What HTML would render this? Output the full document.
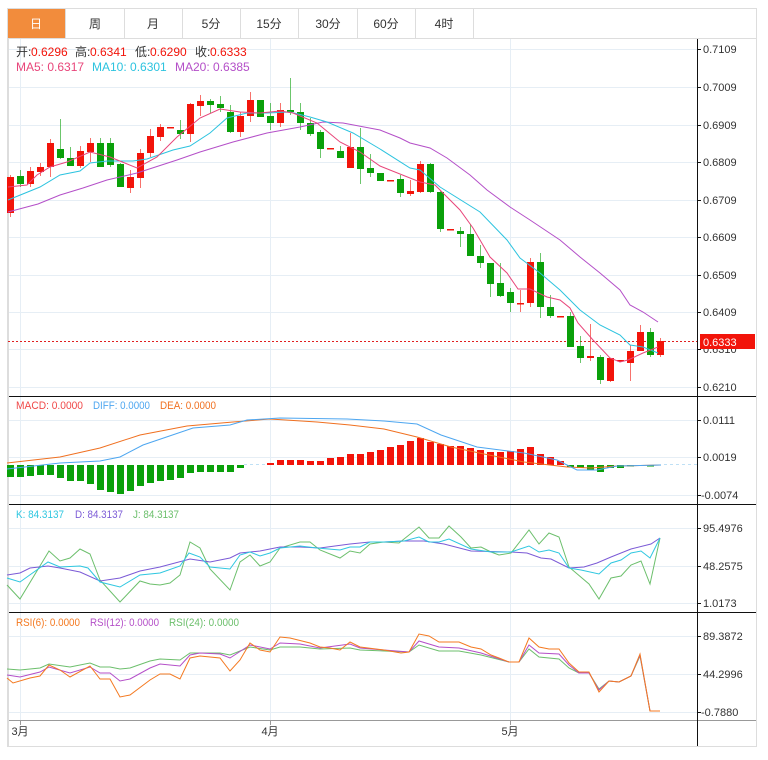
<!DOCTYPE html>
<html><head><meta charset="utf-8"><style>
html,body{margin:0;padding:0;background:#fff;width:768px;height:760px;overflow:hidden}
svg{position:absolute;left:0;top:0}
text{font-family:"Liberation Sans","Noto Sans CJK SC",sans-serif;font-size:11px}
.r{fill:#f2140a}.g{fill:#0aa00a}
.wr{stroke:#f2140a;stroke-opacity:.6}.wg{stroke:#0aa00a;stroke-opacity:.6}
</style></head><body>
<svg width="768" height="760" viewBox="0 0 768 760">
<rect x="7.5" y="8.5" width="749" height="738" fill="#fff" stroke="#ddd"/>
<line x1="8" y1="38.5" x2="756" y2="38.5" stroke="#ddd"/>
<rect x="8" y="9" width="57" height="29" fill="#f28c3c"/>
<g stroke="#ddd"><line x1="65.5" y1="9" x2="65.5" y2="38"/><line x1="124.5" y1="9" x2="124.5" y2="38"/><line x1="182.5" y1="9" x2="182.5" y2="38"/><line x1="240.5" y1="9" x2="240.5" y2="38"/><line x1="298.5" y1="9" x2="298.5" y2="38"/><line x1="357.5" y1="9" x2="357.5" y2="38"/><line x1="415.5" y1="9" x2="415.5" y2="38"/><line x1="473.5" y1="9" x2="473.5" y2="38"/></g>
<g text-anchor="middle" fill="#333">
<text x="36" y="28" fill="#fff" style="font-size:12px">日</text>
<text x="95" y="28" style="font-size:12px">周</text>
<text x="153" y="28" style="font-size:12px">月</text>
<text x="211" y="28" style="font-size:12px">5分</text>
<text x="269" y="28" style="font-size:12px">15分</text>
<text x="328" y="28" style="font-size:12px">30分</text>
<text x="386" y="28" style="font-size:12px">60分</text>
<text x="444" y="28" style="font-size:12px">4时</text>
</g>
<g stroke="#e6eef5" stroke-width="1">
<line x1="8" y1="49.5" x2="697" y2="49.5"/><line x1="8" y1="87.5" x2="697" y2="87.5"/><line x1="8" y1="125.5" x2="697" y2="125.5"/><line x1="8" y1="162.5" x2="697" y2="162.5"/><line x1="8" y1="200.5" x2="697" y2="200.5"/><line x1="8" y1="237.5" x2="697" y2="237.5"/><line x1="8" y1="275.5" x2="697" y2="275.5"/><line x1="8" y1="312.5" x2="697" y2="312.5"/><line x1="8" y1="349.5" x2="697" y2="349.5"/><line x1="8" y1="387.5" x2="697" y2="387.5"/>
<line x1="8" y1="420.5" x2="697" y2="420.5"/><line x1="8" y1="457.5" x2="697" y2="457.5"/><line x1="8" y1="495.5" x2="697" y2="495.5"/>
<line x1="8" y1="528.5" x2="697" y2="528.5"/><line x1="8" y1="566.5" x2="697" y2="566.5"/><line x1="8" y1="603.5" x2="697" y2="603.5"/>
<line x1="8" y1="636.5" x2="697" y2="636.5"/><line x1="8" y1="674.5" x2="697" y2="674.5"/><line x1="8" y1="712.5" x2="697" y2="712.5"/>
<line x1="20.5" y1="39" x2="20.5" y2="721"/><line x1="270.5" y1="39" x2="270.5" y2="721"/><line x1="510.5" y1="39" x2="510.5" y2="721"/>
</g>
<line x1="8" y1="396.5" x2="698" y2="396.5" stroke="#111"/>
<line x1="8" y1="504.5" x2="698" y2="504.5" stroke="#111"/>
<line x1="8" y1="612.5" x2="698" y2="612.5" stroke="#111"/>
<line x1="8" y1="720.5" x2="756" y2="720.5" stroke="#999"/>
<line x1="8.5" y1="39" x2="8.5" y2="746" stroke="#ddd"/>
<line x1="697.5" y1="39" x2="697.5" y2="746" stroke="#111"/>
<line x1="697" y1="396.5" x2="756" y2="396.5" stroke="#111"/>
<line x1="697" y1="504.5" x2="756" y2="504.5" stroke="#111"/>
<line x1="697" y1="612.5" x2="756" y2="612.5" stroke="#111"/>
<g fill="#333">
<g stroke="#111"><line x1="697" y1="49.5" x2="701" y2="49.5"/><line x1="697" y1="87.5" x2="701" y2="87.5"/><line x1="697" y1="125.5" x2="701" y2="125.5"/><line x1="697" y1="162.5" x2="701" y2="162.5"/><line x1="697" y1="200.5" x2="701" y2="200.5"/><line x1="697" y1="237.5" x2="701" y2="237.5"/><line x1="697" y1="275.5" x2="701" y2="275.5"/><line x1="697" y1="312.5" x2="701" y2="312.5"/><line x1="697" y1="349.5" x2="701" y2="349.5"/><line x1="697" y1="387.5" x2="701" y2="387.5"/><line x1="697" y1="420.5" x2="701" y2="420.5"/><line x1="697" y1="457.5" x2="701" y2="457.5"/><line x1="697" y1="495.5" x2="701" y2="495.5"/><line x1="697" y1="528.5" x2="701" y2="528.5"/><line x1="697" y1="566.5" x2="701" y2="566.5"/><line x1="697" y1="603.5" x2="701" y2="603.5"/><line x1="697" y1="636.5" x2="701" y2="636.5"/><line x1="697" y1="674.5" x2="701" y2="674.5"/><line x1="697" y1="712.5" x2="701" y2="712.5"/></g>
<text x="703" y="53">0.7109</text><text x="703" y="91">0.7009</text><text x="703" y="129">0.6909</text><text x="703" y="166">0.6809</text><text x="703" y="204">0.6709</text><text x="703" y="241">0.6609</text><text x="703" y="279">0.6509</text><text x="703" y="316">0.6409</text><text x="703" y="353">0.6310</text><text x="703" y="391">0.6210</text>
<text x="703" y="424">0.0111</text><text x="703" y="461">0.0019</text><text x="701" y="499">-0.0074</text>
<text x="703" y="532">95.4976</text><text x="703" y="570">48.2575</text><text x="703" y="607">1.0173</text>
<text x="703" y="640">89.3872</text><text x="703" y="678">44.2996</text><text x="701" y="716">-0.7880</text>
</g>
<g stroke="#999"><line x1="20.5" y1="721" x2="20.5" y2="725"/><line x1="270.5" y1="721" x2="270.5" y2="725"/><line x1="510.5" y1="721" x2="510.5" y2="725"/></g>
<g fill="#333" text-anchor="middle"><text x="20" y="735">3月</text><text x="270" y="735">4月</text><text x="510" y="735">5月</text></g>

<line x1="8" y1="341.5" x2="697" y2="341.5" stroke="#e02020" stroke-dasharray="2,2"/>
<rect x="700" y="334" width="55" height="15" fill="#f2140a"/>
<text x="703" y="346" fill="#fff">0.6333</text>

<g stroke-width="1">
<line class="wr" x1="10.5" y1="175" x2="10.5" y2="217"/><rect class="r" x="7" y="177" width="7" height="36"/>
<line class="wg" x1="20.5" y1="170" x2="20.5" y2="187"/><rect class="g" x="17" y="176" width="7" height="8"/>
<line class="wr" x1="30.5" y1="167" x2="30.5" y2="187"/><rect class="r" x="27" y="171" width="7" height="13"/>
<line class="wr" x1="40.5" y1="163" x2="40.5" y2="176"/><rect class="r" x="37" y="167" width="7" height="5"/>
<line class="wr" x1="50.5" y1="139" x2="50.5" y2="177"/><rect class="r" x="47" y="143" width="7" height="24"/>
<line class="wg" x1="60.5" y1="119" x2="60.5" y2="159"/><rect class="g" x="57" y="149" width="7" height="9"/>
<line class="wg" x1="70.5" y1="147" x2="70.5" y2="166"/><rect class="g" x="67" y="158" width="7" height="8"/>
<line class="wr" x1="80.5" y1="146" x2="80.5" y2="168"/><rect class="r" x="77" y="151" width="7" height="15"/>
<line class="wr" x1="90.5" y1="138" x2="90.5" y2="162"/><rect class="r" x="87" y="143" width="7" height="9"/>
<line class="wg" x1="100.5" y1="138" x2="100.5" y2="167"/><rect class="g" x="97" y="143" width="7" height="24"/>
<line class="wg" x1="110.5" y1="138" x2="110.5" y2="167"/><rect class="g" x="107" y="143" width="7" height="22"/>
<line class="wg" x1="120.5" y1="163" x2="120.5" y2="187"/><rect class="g" x="117" y="164" width="7" height="23"/>
<line class="wr" x1="130.5" y1="170" x2="130.5" y2="193"/><rect class="r" x="127" y="177" width="7" height="11"/>
<line class="wr" x1="140.5" y1="149" x2="140.5" y2="188"/><rect class="r" x="137" y="153" width="7" height="25"/>
<line class="wr" x1="150.5" y1="129" x2="150.5" y2="157"/><rect class="r" x="147" y="136" width="7" height="17"/>
<line class="wr" x1="160.5" y1="124" x2="160.5" y2="141"/><rect class="r" x="157" y="127" width="7" height="10"/>
<rect class="r" x="167" y="127" width="7" height="1.5"/>
<line class="wg" x1="180.5" y1="120" x2="180.5" y2="139"/><rect class="g" x="177" y="130" width="7" height="4"/>
<line class="wr" x1="190.5" y1="103" x2="190.5" y2="142"/><rect class="r" x="187" y="104" width="7" height="30"/>
<line class="wr" x1="200.5" y1="95" x2="200.5" y2="116"/><rect class="r" x="197" y="101" width="7" height="5"/>
<line class="wg" x1="210.5" y1="99" x2="210.5" y2="113"/><rect class="g" x="207" y="101" width="7" height="4"/>
<line class="wg" x1="220.5" y1="96" x2="220.5" y2="112"/><rect class="g" x="217" y="104" width="7" height="4"/>
<line class="wg" x1="230.5" y1="105" x2="230.5" y2="133"/><rect class="g" x="227" y="112" width="7" height="20"/>
<line class="wr" x1="240.5" y1="112" x2="240.5" y2="137"/><rect class="r" x="237" y="116" width="7" height="16"/>
<line class="wr" x1="250.5" y1="92" x2="250.5" y2="122"/><rect class="r" x="247" y="100" width="7" height="16"/>
<rect class="g" x="257" y="100" width="7" height="17"/>
<line class="wg" x1="270.5" y1="103" x2="270.5" y2="130"/><rect class="g" x="267" y="116" width="7" height="7"/>
<line class="wr" x1="280.5" y1="103" x2="280.5" y2="127"/><rect class="r" x="277" y="110" width="7" height="13"/>
<line class="wg" x1="290.5" y1="78" x2="290.5" y2="115"/><rect class="g" x="287" y="110" width="7" height="2"/>
<line class="wg" x1="300.5" y1="103" x2="300.5" y2="130"/><rect class="g" x="297" y="112" width="7" height="11"/>
<line class="wg" x1="310.5" y1="118" x2="310.5" y2="136"/><rect class="g" x="307" y="123" width="7" height="11"/>
<line class="wg" x1="320.5" y1="130" x2="320.5" y2="158"/><rect class="g" x="317" y="132" width="7" height="17"/>
<rect class="r" x="327" y="148" width="7" height="1.5"/>
<line class="wg" x1="340.5" y1="146" x2="340.5" y2="158"/><rect class="g" x="337" y="151" width="7" height="7"/>
<line class="wr" x1="350.5" y1="133" x2="350.5" y2="164"/><rect class="r" x="347" y="147" width="7" height="21"/>
<line class="wg" x1="360.5" y1="128" x2="360.5" y2="184"/><rect class="g" x="357" y="147" width="7" height="22"/>
<line class="wg" x1="370.5" y1="154" x2="370.5" y2="177"/><rect class="g" x="367" y="168" width="7" height="5"/>
<rect class="g" x="377" y="173" width="7" height="8"/>
<rect class="r" x="387" y="180" width="7" height="1.5"/>
<line class="wg" x1="400.5" y1="175" x2="400.5" y2="197"/><rect class="g" x="397" y="179" width="7" height="14"/>
<line class="wr" x1="410.5" y1="180" x2="410.5" y2="196"/><rect class="r" x="407" y="191" width="7" height="3"/>
<line class="wr" x1="420.5" y1="161" x2="420.5" y2="193"/><rect class="r" x="417" y="164" width="7" height="28"/>
<line class="wg" x1="430.5" y1="163" x2="430.5" y2="193"/><rect class="g" x="427" y="164" width="7" height="28"/>
<line class="wg" x1="440.5" y1="191" x2="440.5" y2="232"/><rect class="g" x="437" y="192" width="7" height="37"/>
<rect class="r" x="447" y="229" width="7" height="1.5"/>
<line class="wg" x1="460.5" y1="227" x2="460.5" y2="247"/><rect class="g" x="457" y="231" width="7" height="3"/>
<line class="wg" x1="470.5" y1="224" x2="470.5" y2="256"/><rect class="g" x="467" y="234" width="7" height="22"/>
<line class="wg" x1="480.5" y1="245" x2="480.5" y2="268"/><rect class="g" x="477" y="256" width="7" height="7"/>
<line class="wg" x1="490.5" y1="263" x2="490.5" y2="297"/><rect class="g" x="487" y="263" width="7" height="21"/>
<line class="wg" x1="500.5" y1="263" x2="500.5" y2="297"/><rect class="g" x="497" y="283" width="7" height="13"/>
<line class="wg" x1="510.5" y1="288" x2="510.5" y2="312"/><rect class="g" x="507" y="292" width="7" height="11"/>
<line class="wr" x1="520.5" y1="290" x2="520.5" y2="312"/><rect class="r" x="517" y="303" width="7" height="1.5"/>
<line class="wr" x1="530.5" y1="258" x2="530.5" y2="307"/><rect class="r" x="527" y="262" width="7" height="41"/>
<line class="wg" x1="540.5" y1="253" x2="540.5" y2="318"/><rect class="g" x="537" y="262" width="7" height="45"/>
<line class="wg" x1="550.5" y1="295" x2="550.5" y2="318"/><rect class="g" x="547" y="307" width="7" height="9"/>
<rect class="r" x="557" y="316" width="7" height="1.5"/>
<line class="wg" x1="570.5" y1="312" x2="570.5" y2="347"/><rect class="g" x="567" y="316" width="7" height="31"/>
<line class="wg" x1="580.5" y1="336" x2="580.5" y2="363"/><rect class="g" x="577" y="346" width="7" height="12"/>
<line class="wr" x1="590.5" y1="324" x2="590.5" y2="361"/><rect class="r" x="587" y="356" width="7" height="2"/>
<line class="wg" x1="600.5" y1="355" x2="600.5" y2="384"/><rect class="g" x="597" y="357" width="7" height="23"/>
<line class="wr" x1="610.5" y1="358" x2="610.5" y2="382"/><rect class="r" x="607" y="358" width="7" height="23"/>
<rect class="r" x="617" y="360" width="7" height="1.5"/>
<line class="wr" x1="630.5" y1="345" x2="630.5" y2="381"/><rect class="r" x="627" y="351" width="7" height="12"/>
<line class="wr" x1="640.5" y1="325" x2="640.5" y2="351"/><rect class="r" x="637" y="332" width="7" height="19"/>
<line class="wg" x1="650.5" y1="328" x2="650.5" y2="357"/><rect class="g" x="647" y="332" width="7" height="23"/>
<line class="wr" x1="660.5" y1="338" x2="660.5" y2="357"/><rect class="r" x="657" y="341" width="7" height="14"/>
</g>
<g fill="none" stroke-width="1">
<polyline stroke="#b44fc8" points="8,212 38,204 60,195 83,188 107,180 137,173 177,160 200,152 233,142 267,133 300,127 323,122 343,123 380,130 400,138 410,143 430,148 447,158 470,175 487,190 510,207 530,220 560,240 580,257 600,273 620,290 630,305 643,312 658,322"/>
<polyline stroke="#2cc3df" points="8,200 40,187 60,175 80,171 90,163 107,161 133,161 147,159 173,150 190,146 210,133 227,118 247,113 267,113 290,112 310,117 327,122 353,133 380,149 410,168 420,170 440,187 480,212 507,240 520,258 540,273 560,290 580,310 600,325 620,335 630,345 643,347 658,353"/>
<polyline stroke="#e8457a" points="8,187 27,185 37,175 50,167 67,162 90,152 110,157 137,168 157,157 177,137 200,118 220,109 240,112 260,113 280,111 293,113 317,123 340,142 360,152 380,166 420,182 435,185 460,210 473,228 490,257 507,273 518,289 530,289 547,297 560,300 570,308 578,323 593,340 610,358 620,362 628,360 643,353 658,347"/>
</g>
<g>
<text x="16" y="56" fill="#333" style="font-size:12px">开:</text><text x="31" y="56" fill="#f2140a" style="font-size:12px">0.6296</text>
<text x="75" y="56" fill="#333" style="font-size:12px">高:</text><text x="90" y="56" fill="#f2140a" style="font-size:12px">0.6341</text>
<text x="135" y="56" fill="#333" style="font-size:12px">低:</text><text x="150" y="56" fill="#f2140a" style="font-size:12px">0.6290</text>
<text x="195" y="56" fill="#333" style="font-size:12px">收:</text><text x="210" y="56" fill="#f2140a" style="font-size:12px">0.6333</text>
<text x="16" y="71" fill="#e8457a" style="font-size:12px">MA5: 0.6317</text>
<text x="92" y="71" fill="#2cc3df" style="font-size:12px">MA10: 0.6301</text>
<text x="175" y="71" fill="#b44fc8" style="font-size:12px">MA20: 0.6385</text>
</g>

<g class="g">
<rect x="7" y="465" width="7" height="12"/><rect x="17" y="465" width="7" height="12"/><rect x="27" y="465" width="7" height="11"/><rect x="37" y="465" width="7" height="10"/><rect x="47" y="465" width="7" height="10"/><rect x="57" y="465" width="7" height="13"/><rect x="67" y="465" width="7" height="16"/><rect x="77" y="465" width="7" height="16"/><rect x="87" y="465" width="7" height="19"/><rect x="97" y="465" width="7" height="25"/><rect x="107" y="465" width="7" height="27"/><rect x="117" y="465" width="7" height="29"/><rect x="127" y="465" width="7" height="26"/><rect x="137" y="465" width="7" height="21"/><rect x="147" y="465" width="7" height="18"/><rect x="157" y="465" width="7" height="16"/><rect x="167" y="465" width="7" height="15"/><rect x="177" y="465" width="7" height="13"/><rect x="187" y="465" width="7" height="8"/><rect x="197" y="465" width="7" height="7"/><rect x="207" y="465" width="7" height="7"/><rect x="217" y="465" width="7" height="7"/><rect x="227" y="465" width="7" height="7"/><rect x="237" y="465" width="7" height="3"/>
<rect x="567" y="465" width="7" height="2"/><rect x="577" y="465" width="7" height="3"/><rect x="587" y="465" width="7" height="5"/><rect x="597" y="465" width="7" height="7"/><rect x="607" y="465" width="7" height="3"/><rect x="617" y="465" width="7" height="3"/><rect x="627" y="465" width="7" height="1.5"/><rect x="647" y="465" width="7" height="1.5"/>
</g>
<g class="r">
<rect x="267" y="463" width="7" height="2"/><rect x="277" y="460" width="7" height="5"/><rect x="287" y="460" width="7" height="5"/><rect x="297" y="460" width="7" height="5"/><rect x="307" y="461" width="7" height="4"/><rect x="317" y="461" width="7" height="4"/><rect x="327" y="458" width="7" height="7"/><rect x="337" y="457" width="7" height="8"/><rect x="347" y="454" width="7" height="11"/><rect x="357" y="454" width="7" height="11"/><rect x="367" y="452" width="7" height="13"/><rect x="377" y="450" width="7" height="15"/><rect x="387" y="447" width="7" height="18"/><rect x="397" y="445" width="7" height="20"/><rect x="407" y="441" width="7" height="24"/><rect x="417" y="438" width="7" height="27"/><rect x="427" y="442" width="7" height="23"/><rect x="437" y="444" width="7" height="21"/><rect x="447" y="446" width="7" height="19"/><rect x="457" y="446" width="7" height="19"/><rect x="467" y="448" width="7" height="17"/><rect x="477" y="450" width="7" height="15"/><rect x="487" y="452" width="7" height="13"/><rect x="497" y="452" width="7" height="13"/><rect x="507" y="451" width="7" height="14"/><rect x="517" y="449" width="7" height="16"/><rect x="527" y="447" width="7" height="18"/><rect x="537" y="454" width="7" height="11"/><rect x="547" y="457" width="7" height="8"/><rect x="557" y="461" width="7" height="4"/>
</g>
<g stroke="#bfe0f5" stroke-dasharray="3,3"><line x1="244" y1="464.5" x2="266" y2="464.5"/><line x1="664" y1="464.5" x2="697" y2="464.5"/></g>
<g fill="none">
<polyline stroke="#f07020" points="7,463 60,457 100,448 140,435 187,426 233,422 270,419 317,422 350,425 384,429 417,437 451,447 484,454 524,462 567,467 591,468 617,466 661,465"/>
<polyline stroke="#4da6f0" points="7,469 60,463 100,461 120,457 143,445 193,428 230,425 247,420 280,418 347,419 384,421 417,424 441,435 477,447 524,453 557,460 577,470 597,470 617,466 661,465"/>
</g>
<text x="16" y="409" fill="#f04848" textLength="67" lengthAdjust="spacingAndGlyphs">MACD: 0.0000</text>
<text x="93" y="409" fill="#4da6f0" textLength="57" lengthAdjust="spacingAndGlyphs">DIFF: 0.0000</text>
<text x="160" y="409" fill="#f07020" textLength="56" lengthAdjust="spacingAndGlyphs">DEA: 0.0000</text>

<g fill="none">
<polyline stroke="#6cbf6c" points="7,585 20,599 49,551 60,561 70,558 80,549 90,554 100,580 120,602 140,581 150,584 160,585 170,583 180,575 190,542 200,548 210,569 230,590 240,562 250,555 260,566 270,562 280,548 300,542 310,542 320,550 340,558 350,551 360,553 370,544 384,542 399,543 419,527 429,538 439,538 449,526 461,537 471,548 481,547 491,552 499,555 511,553 529,530 539,544 549,533 559,537 569,567 589,584 599,599 611,578 621,576 631,565 641,561 650,584 660,538"/>
<polyline stroke="#7b5ad6" points="7,575 20,573 30,568 48,566 60,568 80,572 100,581 120,578 140,571 160,567 190,559 210,562 230,558 240,553 260,551 280,547 300,547 320,548 350,544 370,542 384,542 404,541 424,541 444,544 471,551 511,552 527,553 541,558 551,559 569,568 584,567 597,563 611,557 631,549 651,544 660,538"/>
<polyline stroke="#2ec7e0" points="7,578 20,582 48,562 60,567 80,566 88,568 100,582 120,587 140,575 160,573 180,566 189,553 200,557 210,567 230,569 240,555 250,552 260,556 270,553 280,548 300,546 317,548 340,550 350,547 360,547 370,542 384,542 404,541 419,537 429,542 439,542 449,539 471,549 491,552 511,552 529,546 539,552 549,550 559,553 569,568 581,570 599,574 611,563 621,560 631,553 641,551 650,558 660,538"/>
</g>
<text x="16" y="518" fill="#2ec7e0" textLength="48" lengthAdjust="spacingAndGlyphs">K: 84.3137</text>
<text x="75" y="518" fill="#7b5ad6" textLength="48" lengthAdjust="spacingAndGlyphs">D: 84.3137</text>
<text x="133" y="518" fill="#6cbf6c" textLength="46" lengthAdjust="spacingAndGlyphs">J: 84.3137</text>

<g fill="none">
<polyline stroke="#6cbf6c" points="7,669 20,670 40,668 49,664 70,667 90,663 100,667 110,667 120,669 130,668 150,661 160,659 180,660 190,653 220,653 230,655 250,647 270,650 280,647 300,647 320,649 350,648 360,650 384,651 409,652 419,645 439,651 459,651 481,655 509,662 519,662 529,649 539,657 559,659 569,668 579,673 589,673 599,689 609,681 619,682 631,676 640,656 650,711 660,711"/>
<polyline stroke="#b44fc8" points="7,675 20,677 40,672 49,667 70,673 90,667 100,673 110,673 120,681 130,679 150,668 160,664 180,666 190,655 200,653 220,654 230,658 250,645 270,649 280,643 300,644 320,648 350,644 360,648 384,650 409,652 419,641 439,647 459,648 481,653 509,662 519,662 529,645 539,653 559,654 569,665 579,673 589,673 599,690 609,681 619,682 631,676 640,655 650,711 660,711"/>
<polyline stroke="#f47920" points="7,678 13,683 30,678 40,676 49,665 60,670 70,677 90,666 100,679 110,679 120,697 130,695 150,680 160,674 170,674 180,679 190,658 200,656 220,658 230,671 240,660 250,643 260,650 270,652 280,637 290,638 310,643 320,647 330,648 340,650 350,642 360,647 384,650 401,653 409,652 419,634 429,636 439,642 459,642 471,647 481,649 491,655 499,658 509,662 519,662 529,638 539,647 549,649 559,649 569,663 579,672 589,672 599,692 609,681 619,682 631,676 640,654 650,711 660,711"/>
</g>
<text x="16" y="626" fill="#f47920" textLength="64" lengthAdjust="spacingAndGlyphs">RSI(6): 0.0000</text>
<text x="90" y="626" fill="#b44fc8" textLength="69" lengthAdjust="spacingAndGlyphs">RSI(12): 0.0000</text>
<text x="169" y="626" fill="#6cbf6c" textLength="70" lengthAdjust="spacingAndGlyphs">RSI(24): 0.0000</text>
</svg>
</body></html>
